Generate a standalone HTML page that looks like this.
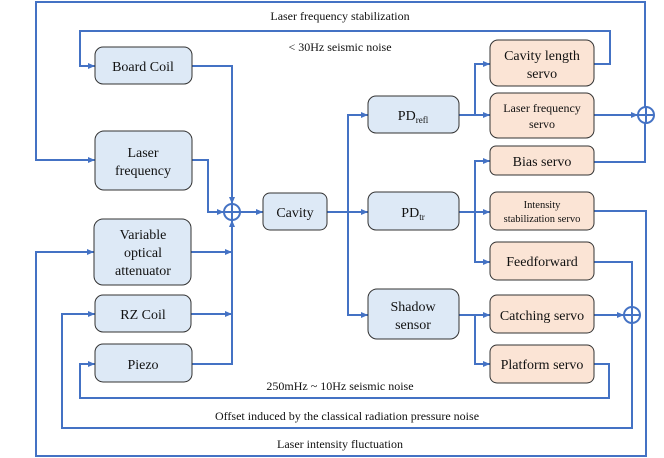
<!DOCTYPE html>
<html><head><meta charset="utf-8"><style>
html,body{margin:0;padding:0;background:#fff}
svg{display:block}
text{font-family:"Liberation Serif",serif;fill:#111}
</style></head><body>
<svg width="664" height="458" viewBox="0 0 664 458" xmlns="http://www.w3.org/2000/svg">
<defs><marker id="a" markerWidth="8" markerHeight="8" refX="7" refY="4" orient="auto" markerUnits="userSpaceOnUse"><path d="M0,1 L7,4 L0,7 z" fill="#4472c4"/></marker></defs>
<g fill="none" stroke="#4472c4" stroke-width="2">
<path d="M645,107 V2 H36 V160 H95" marker-end="url(#a)"/>
<path d="M594,162 H645 V123"/>
<path d="M594,115 H638" marker-end="url(#a)"/>
<path d="M594,64 H610 V31 H80 V66 H95" marker-end="url(#a)"/>
<path d="M192,66 H232 V204" marker-end="url(#a)"/>
<path d="M192,160 H208 V212 H224" marker-end="url(#a)"/>
<path d="M191,252 H232" marker-end="url(#a)"/>
<path d="M191,314 H232" marker-end="url(#a)"/>
<path d="M192,364 H232 V220" marker-end="url(#a)"/>
<path d="M240,212 H263" marker-end="url(#a)"/>
<path d="M327,212 H368" marker-end="url(#a)"/>
<path d="M348,212 V115 H368" marker-end="url(#a)"/>
<path d="M348,212 V315 H368" marker-end="url(#a)"/>
<path d="M459,115 H490" marker-end="url(#a)"/>
<path d="M475,115 V64 H490" marker-end="url(#a)"/>
<path d="M459,212 H490" marker-end="url(#a)"/>
<path d="M475,212 V161 H490" marker-end="url(#a)"/>
<path d="M475,212 V262 H490" marker-end="url(#a)"/>
<path d="M459,315 H490" marker-end="url(#a)"/>
<path d="M475,315 V364 H490" marker-end="url(#a)"/>
<path d="M594,211 H646 V456 H36 V252 H94" marker-end="url(#a)"/>
<path d="M594,262 H632 V307"/>
<path d="M594,315 H624" marker-end="url(#a)"/>
<path d="M632,323 V428 H62 V314 H95" marker-end="url(#a)"/>
<path d="M594,364 H609 V398 H80 V364 H95" marker-end="url(#a)"/>
<circle cx="232" cy="212" r="8"/><path d="M224,212 H240 M232,204 V220"/>
<circle cx="646" cy="115" r="8"/><path d="M638,115 H654 M646,107 V123"/>
<circle cx="632" cy="315" r="8"/><path d="M624,315 H640 M632,307 V323"/>
</g>
<g stroke="#333" stroke-width="1" fill="#dde9f6">
<rect x="95" y="47" width="97" height="37" rx="8"/>
<rect x="95" y="131" width="97" height="59" rx="9"/>
<rect x="94" y="219" width="97" height="66" rx="9"/>
<rect x="95" y="295" width="96" height="37" rx="8"/>
<rect x="95" y="344" width="97" height="38" rx="8"/>
<rect x="263" y="193" width="64" height="37" rx="7"/>
<rect x="368" y="96" width="91" height="37" rx="8"/>
<rect x="368" y="192" width="91" height="38" rx="8"/>
<rect x="368" y="289" width="91" height="50" rx="9"/>
</g>
<g stroke="#333" stroke-width="1" fill="#fbe4d5">
<rect x="490" y="40" width="104" height="46" rx="8"/>
<rect x="490" y="93" width="104" height="45" rx="8"/>
<rect x="490" y="146" width="104" height="29" rx="6"/>
<rect x="490" y="192" width="104" height="38" rx="7"/>
<rect x="490" y="242" width="104" height="38" rx="7"/>
<rect x="490" y="295" width="104" height="38" rx="7"/>
<rect x="490" y="345" width="104" height="38" rx="7"/>
</g>
<g font-size="14" text-anchor="middle">
<text x="143" y="71">Board Coil</text>
<text x="143" y="157">Laser</text>
<text x="143" y="175">frequency</text>
<text x="143" y="239">Variable</text>
<text x="143" y="257">optical</text>
<text x="143" y="275">attenuator</text>
<text x="143" y="319">RZ Coil</text>
<text x="143" y="369">Piezo</text>
<text x="295" y="217">Cavity</text>
<text x="413" y="120">PD<tspan font-size="9" dy="3">refl</tspan></text>
<text x="413" y="217">PD<tspan font-size="9" dy="3">tr</tspan></text>
<text x="413" y="311">Shadow</text>
<text x="413" y="329">sensor</text>
<text x="542" y="60">Cavity length</text>
<text x="542" y="78">servo</text>
<text x="542" y="166">Bias servo</text>
<text x="542" y="266">Feedforward</text>
<text x="542" y="320">Catching servo</text>
<text x="542" y="369">Platform servo</text>
</g>
<g font-size="12" text-anchor="middle">
<text x="340" y="20">Laser frequency stabilization</text>
<text x="340" y="51">&lt; 30Hz seismic noise</text>
<text x="340" y="390">250mHz ~ 10Hz seismic noise</text>
<text x="347" y="420">Offset induced by the classical radiation pressure noise</text>
<text x="340" y="448">Laser intensity fluctuation</text>
<text x="542" y="112">Laser frequency</text>
<text x="542" y="128">servo</text>
<text x="542" y="208" font-size="10.5">Intensity</text>
<text x="542" y="222" font-size="10.5">stabilization servo</text>
</g>
</svg>
</body></html>
